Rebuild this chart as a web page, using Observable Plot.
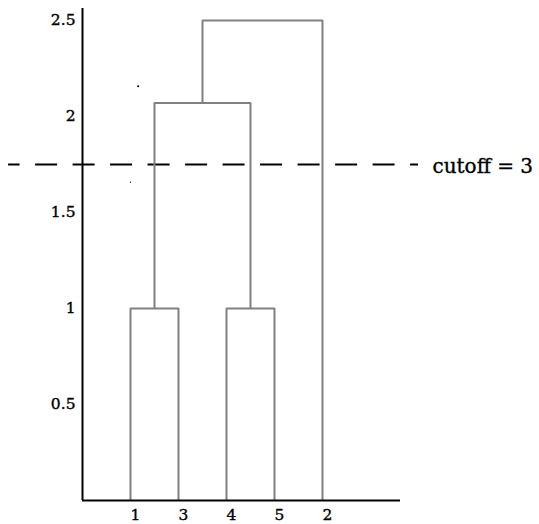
<!DOCTYPE html>
<html>
<head>
<meta charset="utf-8">
<script src="https://cdn.jsdelivr.net/npm/d3@7"></script>
<script src="https://cdn.jsdelivr.net/npm/@observablehq/plot@0.6"></script>
<style>
  html, body { margin: 0; padding: 0; background: #fff; }
  #chart svg text { stroke: black; stroke-width: 0.35px; }
</style>
</head>
<body>
<div id="chart"></div>
<script>
// Leaf labels in dendrogram order
const leafOrder = ["1", "3", "4", "5", "2"];
// Linkage rows: [child A, child B, height]; leaves 1..5, clusters 6..
const linkA = [1, 4, 6, 8];
const linkB = [3, 5, 7, 2];
const linkHeight = [1.0, 1.0, 2.07, 2.5];
// Cutoff line
const cutoffHeight = 1.75;
const cutoffLabel = "cutoff = 3";
// Y tick values
const yTicks = [0.5, 1, 1.5, 2, 2.5];
// Stray marks visible in the picture
const strayX = [1.16, 1.0];
const strayY = [2.158, 1.658];

// Compute node positions
const nLeaves = leafOrder.length;
const nodeX = {}, nodeY = {};
leafOrder.forEach((id, i) => { nodeX[+id] = i + 1; nodeY[+id] = 0; });
const linkPts = [];
linkA.forEach((a, k) => {
  const b = linkB[k], h = linkHeight[k];
  const id = nLeaves + 1 + k;
  nodeX[id] = (nodeX[a] + nodeX[b]) / 2;
  nodeY[id] = h;
  linkPts.push(
    {k, x: nodeX[a], y: nodeY[a]},
    {k, x: nodeX[a], y: h},
    {k, x: nodeX[b], y: h},
    {k, x: nodeX[b], y: nodeY[b]}
  );
});

const xMax = 6.625, yMax = 2.5625;
const dashStart = -1.54, dashEnd = 7.0;

const chart = Plot.plot({
  width: 539,
  height: 524,
  marginLeft: 82,
  marginRight: 139,
  marginTop: 8,
  marginBottom: 24,
  style: {fontFamily: "DejaVu Serif", fontSize: "15.5px", color: "black", background: "white"},
  x: {domain: [0, xMax]},
  y: {domain: [0, yMax]},
  marks: [
    Plot.ruleY([cutoffHeight], {
      x1: dashStart, x2: dashEnd, stroke: "black", strokeWidth: 2,
      strokeDasharray: "22,15.5", strokeDashoffset: 10.5
    }),
    Plot.text([cutoffLabel], {
      x: dashEnd, y: cutoffHeight, text: d => d, textAnchor: "start",
      dx: 14, dy: 2, fontSize: 20, fill: "black"
    }),
    Plot.dot([{x: strayX[0], y: strayY[0]}], {x: "x", y: "y", r: 1, fill: "black", stroke: null}),
    Plot.dot([{x: strayX[1], y: strayY[1]}], {x: "x", y: "y", r: 0.6, fill: "black", stroke: null}),
    Plot.line(linkPts, {
      x: "x", y: "y", z: "k", stroke: "#808080", strokeWidth: 2,
      strokeLinejoin: "miter", strokeLinecap: "butt"
    }),
    Plot.ruleX([0], {stroke: "black", strokeWidth: 2}),
    Plot.ruleY([0], {stroke: "black", strokeWidth: 2}),
    Plot.axisY({ticks: yTicks, tickSize: 0, tickPadding: 7, tickFormat: d => String(d), label: null}),
    Plot.axisX({ticks: d3.range(1, nLeaves + 1), tickSize: 0, tickPadding: 8, dx: 5,
      tickFormat: i => leafOrder[i - 1], label: null})
  ]
});
document.getElementById("chart").appendChild(chart);
</script>
</body>
</html>
